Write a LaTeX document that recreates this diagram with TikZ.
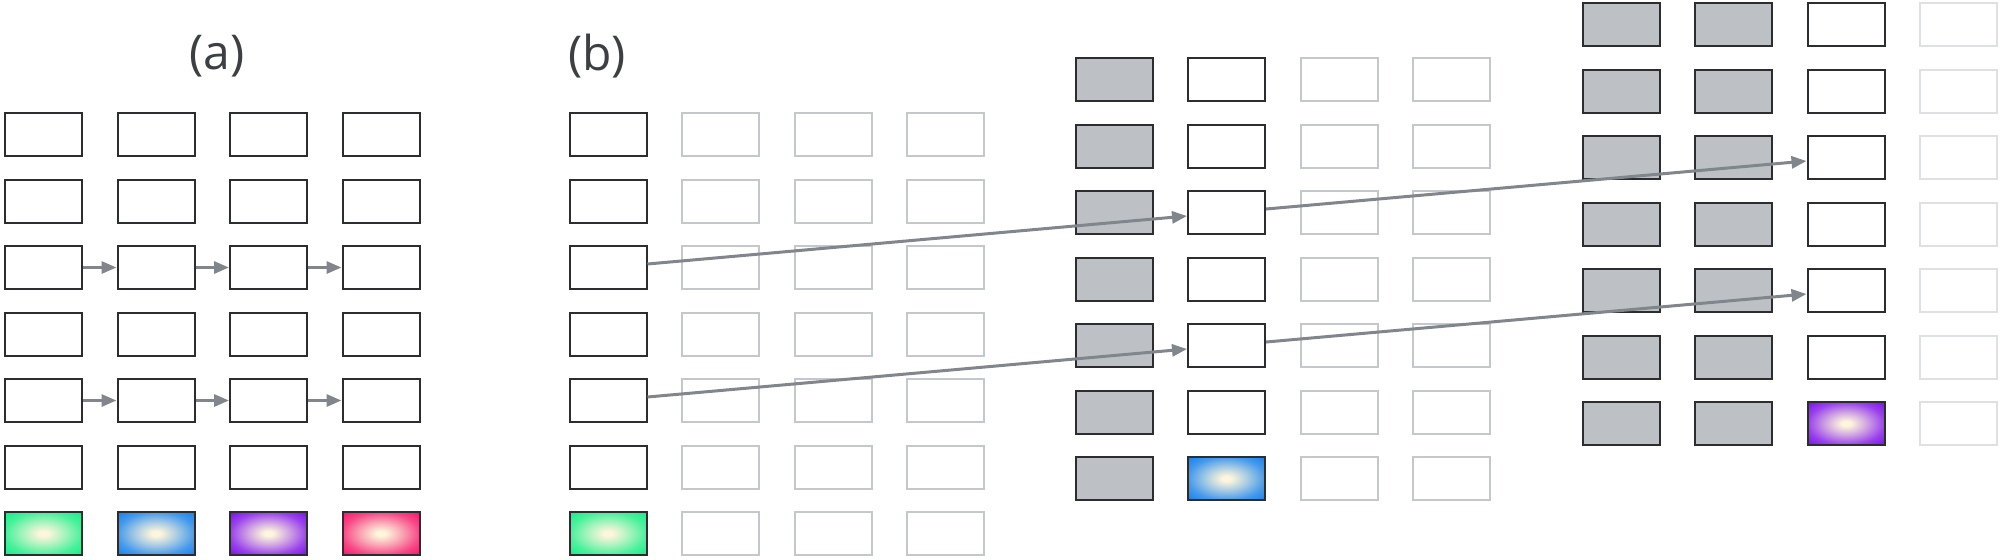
\documentclass[tikz,border=0pt]{standalone}
\usepackage{fontspec}
\setmainfont{Open Sans}
\usetikzlibrary{arrows.meta}
\definecolor{dk}{HTML}{2B2D30}
\definecolor{lt}{HTML}{C4C7CB}
\definecolor{ltb}{HTML}{DEE0E3}
\definecolor{gfill}{HTML}{BDC1C6}
\definecolor{arr}{HTML}{80868B}
\definecolor{txt}{HTML}{3C4043}
\definecolor{cream}{HTML}{FDF5DC}
\definecolor{cgreen}{HTML}{18F08A}
\definecolor{cblue}{HTML}{1884F0}
\definecolor{cpurple}{HTML}{8014F0}
\definecolor{cpink}{HTML}{F51C70}
\colorlet{agreen}{cgreen!35!cream}
\colorlet{ablue}{cblue!35!cream}
\colorlet{apurple}{cpurple!35!cream}
\colorlet{apink}{cpink!35!cream}
\colorlet{mgreen}{cgreen!80!cream}
\colorlet{mblue}{cblue!80!cream}
\colorlet{mpurple}{cpurple!80!cream}
\colorlet{mpink}{cpink!80!cream}
\pgfdeclareradialshading{radgreen}{\pgfpoint{0bp}{0bp}}{color(0bp)=(cream); color(3bp)=(cream); color(13bp)=(agreen); color(25bp)=(mgreen); color(34bp)=(cgreen); color(50bp)=(cgreen)}
\pgfdeclareradialshading{radblue}{\pgfpoint{0bp}{0bp}}{color(0bp)=(cream); color(3bp)=(cream); color(13bp)=(ablue); color(25bp)=(mblue); color(34bp)=(cblue); color(50bp)=(cblue)}
\pgfdeclareradialshading{radpurple}{\pgfpoint{0bp}{0bp}}{color(0bp)=(cream); color(3bp)=(cream); color(13bp)=(apurple); color(25bp)=(mpurple); color(34bp)=(cpurple); color(50bp)=(cpurple)}
\pgfdeclareradialshading{radpink}{\pgfpoint{0bp}{0bp}}{color(0bp)=(cream); color(3bp)=(cream); color(13bp)=(apink); color(25bp)=(mpink); color(34bp)=(cpink); color(50bp)=(cpink)}
\begin{document}
\begin{tikzpicture}[x=0.5pt,y=-0.5pt,
 cell/.style={rectangle, minimum width=38.5pt, minimum height=21.5pt, inner sep=0pt, line width=1pt},
 dkbox/.style={cell, draw=dk, fill=white},
 ltbox/.style={cell, draw=lt, fill=white},
 ltbbox/.style={cell, draw=ltb, fill=white},
 gybox/.style={cell, draw=dk, fill=gfill},
 grad/.style={cell, draw=dk, shading=#1},
 conn/.style={draw=arr, line width=1.5pt, -{Triangle[length=7.5pt,width=6pt]}},
 lbl/.style={text=txt, font=\fontsize{24}{28}\selectfont, inner sep=0pt}]
\useasboundingbox (0,0) rectangle (2000,559);
% titles
\node[lbl] (ta) at (217,56) {(a)};
\node[lbl] (tb) at (597,56) {(b)};
% panel (a)
\foreach \c in {1,...,4} {
  \foreach \r in {1,...,6} {
    \node[dkbox] (a-\c-\r) at ({43.5+112.5*(\c-1)},{134.5+66.5*(\r-1)}) {};
  }
}
\node[grad=radgreen]  (a-1-7) at (43.5,533.5) {};
\node[grad=radblue]   (a-2-7) at (156,533.5) {};
\node[grad=radpurple] (a-3-7) at (268.5,533.5) {};
\node[grad=radpink]   (a-4-7) at (381,533.5) {};
% panel (b) first step
\foreach \r in {1,...,6} {
  \node[dkbox] (b-1-\r) at (608,{134.5+66.5*(\r-1)}) {};
}
\node[grad=radgreen] (b-1-7) at (608,533.5) {};
\foreach \c in {2,3,4} {
  \foreach \r in {1,...,7} {
    \node[ltbox] (b-\c-\r) at ({608+112.5*(\c-1)},{134.5+66.5*(\r-1)}) {};
  }
}
% middle step
\foreach \r in {1,...,7} {
  \node[gybox] (m-1-\r) at (1114,{79.5+66.5*(\r-1)}) {};
}
\foreach \r in {1,...,6} {
  \node[dkbox] (m-2-\r) at (1226.5,{79.5+66.5*(\r-1)}) {};
}
\node[grad=radblue] (m-2-7) at (1226.5,478.5) {};
\foreach \c in {3,4} {
  \foreach \r in {1,...,7} {
    \node[ltbox] (m-\c-\r) at ({1114+112.5*(\c-1)},{79.5+66.5*(\r-1)}) {};
  }
}
% right step
\foreach \c in {1,2} {
  \foreach \r in {1,...,7} {
    \node[gybox] (r-\c-\r) at ({1621+112.5*(\c-1)},{24.5+66.5*(\r-1)}) {};
  }
}
\foreach \r in {1,...,6} {
  \node[dkbox] (r-3-\r) at (1846,{24.5+66.5*(\r-1)}) {};
}
\node[grad=radpurple] (r-3-7) at (1846,423.5) {};
\foreach \r in {1,...,7} {
  \node[ltbbox] (r-4-\r) at (1958.5,{24.5+66.5*(\r-1)}) {};
}
% connectors (a)
\foreach \c/\d in {1/2,2/3,3/4} {
  \foreach \r in {3,5} {
    \draw[conn] (a-\c-\r) -- (a-\d-\r);
  }
}
% connectors (b)
\foreach \r/\s in {3/3,5/5} {
  \draw[conn] (b-1-\r) -- (m-2-\s);
  \draw[conn] (m-2-\r) -- (r-3-\s);
}
\end{tikzpicture}
\end{document}
